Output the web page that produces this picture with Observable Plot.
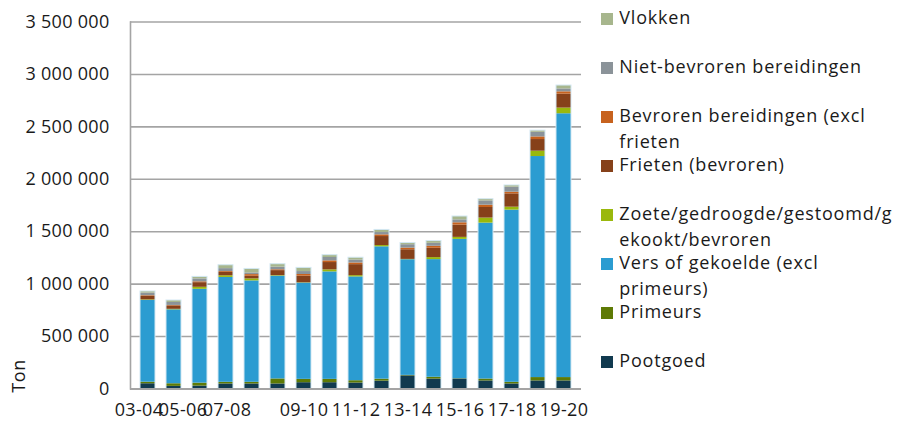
<!DOCTYPE html>
<html>
<head>
<meta charset="utf-8">
<script src="https://cdn.jsdelivr.net/npm/d3@7"></script>
<script src="https://cdn.jsdelivr.net/npm/@observablehq/plot@0.6"></script>
<style>
  html, body { margin: 0; padding: 0; background: #fff; overflow: hidden; }
  #wrap { position: relative; width: 903px; height: 426px; overflow: hidden; font-family: "Open Sans", sans-serif; color: #1a1a1a; }
  #chart { position: absolute; left: 0; top: 0; }
  #legend { position: absolute; left: 601px; top: 0; width: 420px; }
  .item { position: absolute; left: 0; display: flex; align-items: flex-start; font-size: 18px; letter-spacing: 0.8px; line-height: 25.5px; white-space: nowrap; }
  .sw { width: 11.7px; height: 11.7px; margin-top: 8px; margin-right: 6.6px; flex: none; }
  #ylab { position: absolute; left: 18px; top: 376px; transform: translate(-50%, -50%) rotate(-90deg); font-size: 18px; letter-spacing: 0.6px; white-space: nowrap; }
</style>
</head>
<body>
<div id="wrap">
  <div id="chart"></div>
  <div id="legend"></div>
  <div id="ylab">Ton</div>
</div>
<script>
// ---- data (tonnes) ----
const seasons = ["03-04","04-05","05-06","06-07","07-08","08-09","09-10","10-11","11-12","12-13","13-14","14-15","15-16","16-17","17-18","18-19","19-20"];
const pootgoed     = [50000, 25000, 28000, 48000, 48000, 48000, 60000, 60000, 57000, 75000, 125000, 95000, 95000, 77000, 48000, 77000, 77000];
const primeurs     = [15000, 25000, 28000, 16000, 16000, 48000, 32000, 32000, 22000, 19000, 5000, 17000, 3000, 18000, 16000, 32000, 32000];
const vers         = [780000, 705000, 895000, 1000000, 967000, 980000, 918000, 1025000, 990000, 1262000, 1103000, 1122000, 1329000, 1487000, 1642000, 2108000, 2516000];
const zoete        = [5000, 5000, 19000, 16000, 19000, 5000, 3000, 19000, 12000, 12000, 3000, 19000, 19000, 48000, 28000, 51000, 54000];
const frieten      = [35000, 32000, 44000, 32000, 25000, 48000, 63000, 70000, 105000, 86000, 92000, 89000, 117000, 101000, 127000, 111000, 133000];
const bevroren     = [5000, 5000, 8000, 8000, 16000, 8000, 16000, 16000, 16000, 16000, 16000, 19000, 22000, 22000, 16000, 25000, 22000];
const nietBevroren = [25000, 28000, 28000, 28000, 16000, 25000, 28000, 32000, 28000, 22000, 32000, 28000, 28000, 41000, 48000, 44000, 28000];
const vlokken      = [15000, 19000, 19000, 32000, 38000, 28000, 35000, 22000, 22000, 25000, 16000, 22000, 32000, 16000, 16000, 16000, 32000];

// categories, bottom of the stack first
const categories = ["Pootgoed", "Primeurs", "Vers of gekoelde (excl primeurs)", "Zoete/gedroogde/gestoomd/gekookt/bevroren", "Frieten (bevroren)", "Bevroren bereidingen (excl frieten", "Niet-bevroren bereidingen", "Vlokken"];
const legendLabels = ["Pootgoed", "Primeurs", "Vers of gekoelde (excl\nprimeurs)", "Zoete/gedroogde/gestoomd/g\nekookt/bevroren", "Frieten (bevroren)", "Bevroren bereidingen (excl\nfrieten", "Niet-bevroren bereidingen", "Vlokken"];
const colors = ["#113a4f", "#5e7a05", "#2b9cd1", "#9ab80c", "#86411a", "#c7621e", "#8b9399", "#a7b68d"];
const seriesValues = [pootgoed, primeurs, vers, zoete, frieten, bevroren, nietBevroren, vlokken];
const yTicks = [0, 500000, 1000000, 1500000, 2000000, 2500000, 3000000, 3500000];

// ---- build table ----
const rows = [];
categories.forEach((c, k) => seasons.forEach((s, i) => rows.push({season: s, category: c, value: seriesValues[k][i]})));

const locale = d3.formatLocale({decimal: ",", thousands: " ", grouping: [3], currency: ["€", ""]});
const fmt = locale.format(",");
const gridColor = "#a4a4a4";
const xLab = {tickSize: 0, tickPadding: 14, fontSize: 18, label: null};

const chart = Plot.plot({
  width: 600,
  height: 426,
  marginLeft: 130,
  marginRight: 19,
  marginTop: 21.5,
  marginBottom: 37.5,
  style: {fontFamily: "Open Sans, sans-serif", fontSize: "18px", color: "#1a1a1a", background: "transparent", letterSpacing: "0.3px"},
  x: {domain: seasons, paddingInner: 0.42, paddingOuter: 0.25, label: null},
  y: {domain: [0, 3500000], label: null},
  color: {domain: categories, range: colors},
  marks: [
    Plot.gridY(yTicks, {stroke: gridColor, strokeOpacity: 1, strokeWidth: 1.6}),
    Plot.barY(rows, {x: "season", y: "value", fill: "category"}),
    Plot.barY(rows, Plot.groupX({y: "sum"}, {x: "season", y: "value", fill: "none", stroke: "#d3e8f3", strokeWidth: 1})),
    Plot.frame({anchor: "left", stroke: gridColor, strokeWidth: 1.6}),
    Plot.ruleY([0], {stroke: gridColor, strokeWidth: 2}),
    Plot.axisY(yTicks, {tickSize: 0, tickPadding: 21, tickFormat: fmt, fontSize: 18, label: null}),
    Plot.axisX([seasons[0]], {...xLab, dx: -9}),
    Plot.axisX([seasons[2]], {...xLab, dx: -17}),
    Plot.axisX([seasons[4]], {...xLab, dx: -25}),
    Plot.axisX(seasons.filter((d, i) => i % 2 === 0 && i >= 6), xLab)
  ]
});
document.getElementById("chart").appendChild(chart);

// ---- legend (top item = top of stack) ----
const legend = document.getElementById("legend");
const order = d3.range(categories.length).reverse();
order.forEach((k, j) => {
  const item = document.createElement("div");
  item.className = "item";
  item.style.top = (5.3 + j * 48.95) + "px";
  const sw = document.createElement("div");
  sw.className = "sw";
  sw.style.background = colors[k];
  const tx = document.createElement("div");
  tx.style.whiteSpace = "pre";
  tx.textContent = legendLabels[k];
  item.appendChild(sw);
  item.appendChild(tx);
  legend.appendChild(item);
});
</script>
</body>
</html>
